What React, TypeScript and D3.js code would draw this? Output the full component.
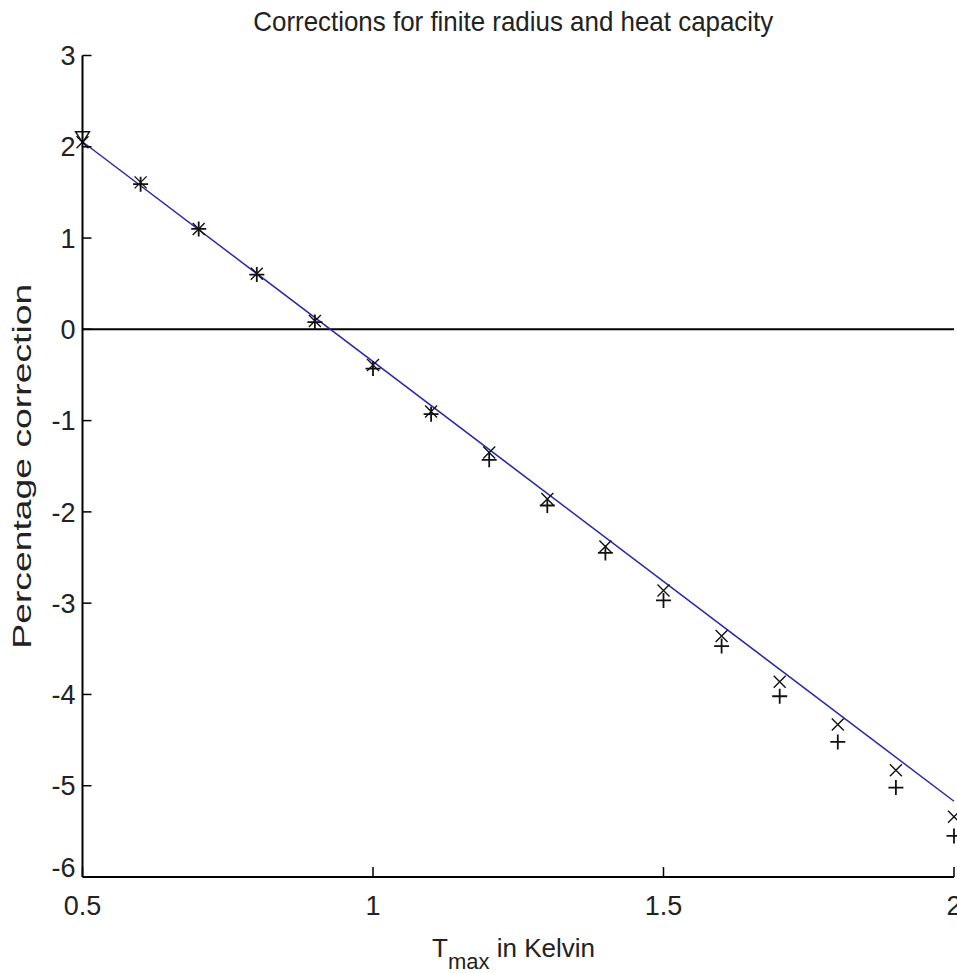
import React from "react";
import * as d3 from "d3";

const xValues = [0.5, 0.6, 0.7, 0.8, 0.9, 1.0, 1.1, 1.2, 1.3, 1.4, 1.5, 1.6, 1.7, 1.8, 1.9, 2.0];
const crossSeries = [2.05, 1.61, 1.1, 0.61, 0.09, -0.39, -0.9, -1.35, -1.86, -2.38, -2.86, -3.36, -3.86, -4.33, -4.83, -5.34];
const plusSeries = [null, 1.59, 1.1, 0.6, 0.08, -0.43, -0.93, -1.43, -1.93, -2.45, -2.97, -3.47, -4.02, -4.52, -5.02, -5.55];
const triangleX = [0.5];
const triangleY = [2.11];
const fitX = [0.5, 2.0];
const fitY = [2.055, -5.17];
const xTicks = [0.5, 1, 1.5, 2];
const xTickLabels = ["0.5", "1", "1.5", "2"];
const yTicks = [-6, -5, -4, -3, -2, -1, 0, 1, 2, 3];
const yTickLabels = ["-6", "-5", "-4", "-3", "-2", "-1", "0", "1", "2", "3"];
const titleText = "Corrections for finite radius and heat capacity";
const yLabelText = "Percentage correction";

const W = 957;
const H = 973;
const FONT = "'Liberation Sans', Arial, sans-serif";

export default function App() {
  const x = d3.scaleLinear().domain([0.5, 2]).range([82.5, 954]);
  const y = d3.scaleLinear().domain([-6, 3]).range([877, 55.5]);
  const line = d3
    .line<number>()
    .x((_, i) => x(fitX[i]))
    .y((d) => y(d));
  const x0 = x.range()[0];
  const x1 = x.range()[1];
  const yb = y.range()[0];
  const yt = y.range()[1];
  const mk = 1.4;
  const yMin = y.domain()[0];
  return (
    <>
      <style>{"body{margin:0;background:#fff}"}</style>
      <svg width={W} height={H} style={{ display: "block" }}>
        <rect width={W} height={H} fill="#fff" />
        <line x1={x0} x2={x1} y1={y(0)} y2={y(0)} stroke="#000" strokeWidth={2} />
        <path d={line(fitY) || ""} fill="none" stroke="#2a2aa8" strokeWidth={1.5} />
        {crossSeries.map((v, i) => {
          const cx = x(xValues[i]);
          const cy = y(v);
          const s = 6;
          return (
            <path
              key={"x" + i}
              d={`M${cx - s},${cy - s}L${cx + s},${cy + s}M${cx - s},${cy + s}L${cx + s},${cy - s}`}
              stroke="#111"
              strokeWidth={mk}
              fill="none"
            />
          );
        })}
        {plusSeries.map((v, i) => {
          if (v === null) return null;
          const cx = x(xValues[i]);
          const cy = y(v);
          const s = 7.5;
          return (
            <path
              key={"p" + i}
              d={`M${cx - s},${cy}L${cx + s},${cy}M${cx},${cy - s}L${cx},${cy + s}`}
              stroke="#111"
              strokeWidth={mk + 0.4}
              fill="none"
            />
          );
        })}
        {triangleY.map((v, i) => {
          const cx = x(triangleX[i]);
          const cy = y(v);
          return (
            <path
              key={"t" + i}
              d={`M${cx - 7},${cy - 5}L${cx + 7},${cy - 5}L${cx},${cy + 6}Z`}
              stroke="#111"
              strokeWidth={mk}
              fill="none"
            />
          );
        })}
        <line x1={x0} x2={x1} y1={yb} y2={yb} stroke="#000" strokeWidth={2} />
        <line x1={x0} x2={x0} y1={yb} y2={yt} stroke="#000" strokeWidth={2} />
        {yTicks.map((t, i) => (
          <g key={"yt" + i}>
            <line x1={x0} x2={x0 + 9} y1={y(t)} y2={y(t)} stroke="#000" strokeWidth={1.5} />
            <text
              x={x0 - 7}
              y={y(t) - (t === yMin ? 10 : 0)}
              dy="0.36em"
              textAnchor="end"
              fontFamily={FONT}
              fontSize={27}
              fill="#222"
            >
              {yTickLabels[i]}
            </text>
          </g>
        ))}
        {xTicks.map((t, i) => (
          <g key={"xt" + i}>
            <line x1={x(t)} x2={x(t)} y1={yb} y2={yb - 10} stroke="#000" strokeWidth={1.5} />
            <text
              x={x(t)}
              y={yb + 38}
              textAnchor="middle"
              fontFamily={FONT}
              fontSize={27}
              fill="#222"
            >
              {xTickLabels[i]}
            </text>
          </g>
        ))}
        <text
          x={(x0 + x1) / 2 - 5}
          y={31}
          textAnchor="middle"
          fontFamily={FONT}
          fontSize={28}
          fill="#222"
          textLength={520}
          lengthAdjust="spacingAndGlyphs"
        >
          {titleText}
        </text>
        <text
          transform={`translate(31,${(yb + yt) / 2}) rotate(-90)`}
          textAnchor="middle"
          fontFamily={FONT}
          fontSize={26}
          fill="#222"
          textLength={365}
          lengthAdjust="spacingAndGlyphs"
        >
          {yLabelText}
        </text>
        <text x={432} y={957} fontFamily={FONT} fontSize={26} fill="#222">
          <tspan>T</tspan>
          <tspan fontSize={22} dy={12}>max</tspan>
          <tspan dy={-12}> in Kelvin</tspan>
        </text>
      </svg>
    </>
  );
}
